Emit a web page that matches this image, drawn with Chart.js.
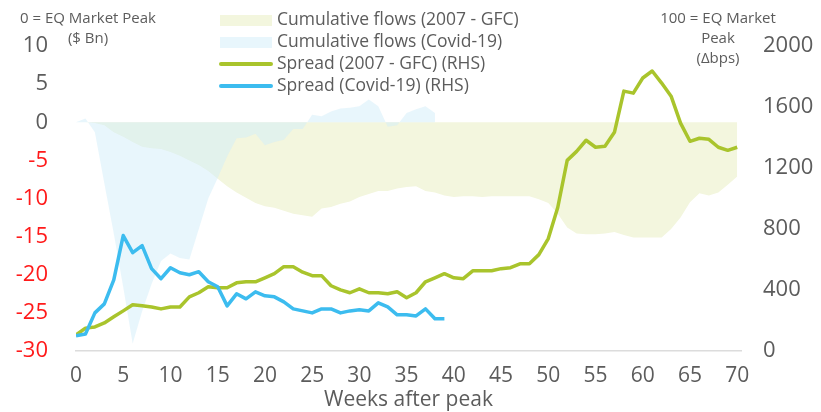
<!DOCTYPE html>
<html>
<head>
<meta charset="utf-8">
<script src="https://cdn.jsdelivr.net/npm/chart.js@4.4.1/dist/chart.umd.min.js"></script>
<style>
	html, body { margin: 0; padding: 0; background: #ffffff; }
	#wrap { width: 821px; height: 412px; }
</style>
</head>
<body>
<div id="wrap"><canvas id="chart"></canvas></div>
<script>
(() => {
	'use strict'

	// Weekly values, week 0 = equity market peak
	const gfcFlows = [0, 0, -0.1, -0.4, -1.3, -1.9, -2.6, -3.2, -3.4, -3.5, -3.9, -4.4, -5.0, -5.6, -6.4, -7.4, -8.4, -9.2, -9.9, -10.6,
		-11.0, -11.2, -11.6, -12.0, -12.2, -12.4, -11.3, -11.1, -10.7, -10.4, -9.8, -9.4, -9.0, -9.0, -8.7, -8.5, -8.4, -9.0, -9.2, -9.6,
		-9.8, -9.7, -9.7, -9.8, -9.7, -9.7, -9.7, -9.7, -9.7, -10.1, -10.6, -12.0, -13.8, -14.6, -14.7, -14.7, -14.6, -14.4, -14.8, -15.1,
		-15.1, -15.1, -15.1, -14.0, -12.5, -10.5, -9.3, -9.6, -9.2, -8.2, -7.1];
	const covidFlows = [0, 0.5, -1.3, -8.0, -14.6, -21.6, -29.0, -24.8, -21.2, -18.2, -17.2, -17.8, -18.0, -14.0, -10.0, -7.3, -4.5, -2.1, -2.0, -1.5,
		-3.0, -2.6, -2.3, -0.9, -0.9, 1.0, 0.8, 1.4, 1.8, 1.9, 2.1, 3.0, 2.1, -0.6, -0.4, 1.2, 1.7, 2.1, 1.2];
	const gfcSpread = [105, 150, 158, 184, 224, 263, 303, 296, 289, 276, 289, 289, 355, 382, 421, 415, 415, 447, 454, 454,
		480, 507, 553, 553, 517, 494, 494, 428, 401, 382, 408, 382, 382, 375, 388, 349, 382, 454, 480, 507,
		480, 474, 526, 526, 526, 540, 546, 572, 572, 632, 737, 941, 1250, 1309, 1382, 1336, 1342, 1434, 1704, 1691,
		1790, 1836, 1757, 1671, 1494, 1375, 1395, 1388, 1336, 1316, 1336];
	const covidSpread = [99, 112, 250, 309, 467, 757, 645, 691, 540, 474, 546, 513, 500, 520, 454, 421, 296, 375, 342, 388,
		362, 355, 322, 276, 263, 250, 276, 276, 250, 263, 270, 263, 316, 289, 237, 237, 230, 276, 211, 211];

	// Series names and axis notes
	const seriesNames = ['Cumulative flows (2007 - GFC)', 'Cumulative flows (Covid-19)', 'Spread (2007 - GFC) (RHS)', 'Spread (Covid-19) (RHS)'];
	const leftNote = ['0 = EQ Market Peak', '($ Bn)'];
	const rightNote = ['100 = EQ Market', 'Peak', '(\u0394bps)'];
	const xTitle = 'Weeks after peak';

	// Colours
	const beige = 'rgb(243, 246, 222)';
	const paleBlue = 'rgba(209, 237, 249, 0.5)';
	const green = '#a9c42c';
	const blue = '#3cbcef';
	const textColor = '#5c5c5c';
	const red = '#ff1a1a';
	const fontFamily = '"Open Sans", sans-serif';

	// Helper to turn a weekly list into x/y points
	function toPoints(values) {
		return values.map((v, i) => ({ x: i, y: v }));
	}

	// Legend + side notes drawn by hand (legend sits in four rows over the plot)
	const notesPlugin = {
		id: 'notes',
		afterDraw(chart) {
			const ctx = chart.ctx;
			ctx.save();
			ctx.textBaseline = 'middle';

			// legend
			const rows = [20, 42, 64, 86];
			chart.data.datasets.forEach((ds, i) => {
				const y = rows[i];
				if (ds.fill) {
					ctx.fillStyle = i === 0 ? beige : '#e8f6fc';
					ctx.fillRect(220, y - 5, 52, 11);
				} else {
					ctx.strokeStyle = ds.borderColor;
					ctx.lineWidth = 4;
					ctx.lineCap = 'round';
					ctx.beginPath();
					ctx.moveTo(221, y);
					ctx.lineTo(271, y);
					ctx.stroke();
				}
				ctx.fillStyle = textColor;
				ctx.textAlign = 'left';
				ctx.font = '17.5px ' + fontFamily;
				ctx.fillText(ds.label, 277, y);
			});

			// axis notes
			ctx.font = '15px ' + fontFamily;
			ctx.textAlign = 'center';
			leftNote.forEach((t, i) => ctx.fillText(t, 88, 19 + i * 20));
			rightNote.forEach((t, i) => ctx.fillText(t, 718, 19 + i * 20));
			ctx.restore();
		}
	};

	/******************** Chart Start ********************/
	const chartEl = document.getElementById('chart');
	if (chartEl) {
		const dataChart = {
			datasets: [
				{
					label: seriesNames[0],
					data: toPoints(gfcFlows),
					yAxisID: 'y',
					backgroundColor: beige,
					borderWidth: 0,
					pointRadius: 0,
					fill: 'origin',
					order: 4,
				},
				{
					label: seriesNames[1],
					data: toPoints(covidFlows),
					yAxisID: 'y',
					backgroundColor: paleBlue,
					borderWidth: 0,
					pointRadius: 0,
					fill: 'origin',
					order: 3,
				},
				{
					label: seriesNames[2],
					data: toPoints(gfcSpread),
					yAxisID: 'y2',
					borderColor: green,
					borderWidth: 3.5,
					pointRadius: 0,
					fill: false,
					order: 2,
				},
				{
					label: seriesNames[3],
					data: toPoints(covidSpread),
					yAxisID: 'y2',
					borderColor: blue,
					borderWidth: 3.5,
					pointRadius: 0,
					fill: false,
					order: 1,
				},
			]
		};

		const configChart = {
			type: 'line',
			data: dataChart,
			options: {
				responsive: false,
				animation: false,
				tension: 0,
				borderJoinStyle: 'round',
				layout: {
					padding: { top: 46, left: 0, right: 0, bottom: 0 }
				},
				scales: {
					x: {
						type: 'linear',
						min: 0,
						max: 70.4,
						grid: { display: false, drawTicks: false },
						border: { display: true, color: '#dcdcdc', width: 1.5 },
						ticks: {
							stepSize: 5,
							includeBounds: false,
							padding: 12,
							color: textColor,
							font: { family: fontFamily, size: 21 },
							maxRotation: 0,
						},
						title: {
							display: true,
							text: xTitle,
							color: textColor,
							font: { family: fontFamily, size: 21, lineHeight: 1 },
							padding: { top: 0, bottom: 1 },
						},
						afterFit(scale) { scale.height = 61; }
					},
					y: {
						position: 'left',
						min: -30,
						max: 10,
						grid: { display: false, drawTicks: false },
						border: { display: false },
						ticks: {
							stepSize: 5,
							padding: 28,
							color: (c) => c.tick && c.tick.value < 0 ? red : textColor,
							font: { family: fontFamily, size: 22 },
						},
						afterFit(scale) { scale.width = 76; }
					},
					y2: {
						position: 'right',
						min: 0,
						max: 2000,
						grid: { display: false, drawTicks: false },
						border: { display: false },
						ticks: {
							stepSize: 400,
							padding: 22,
							color: textColor,
							font: { family: fontFamily, size: 22 },
							callback: (v) => String(v),
						},
						afterFit(scale) { scale.width = 80; }
					}
				},
				plugins: {
					legend: { display: false },
					title: { display: false },
					tooltip: { enabled: false }
				}
			},
			plugins: [notesPlugin]
		};

		chartEl.width = 821;
		chartEl.height = 412;
		const myChart = new Chart(chartEl, configChart);
	}
	/********************* Chart End *********************/
})()
</script>
</body>
</html>
